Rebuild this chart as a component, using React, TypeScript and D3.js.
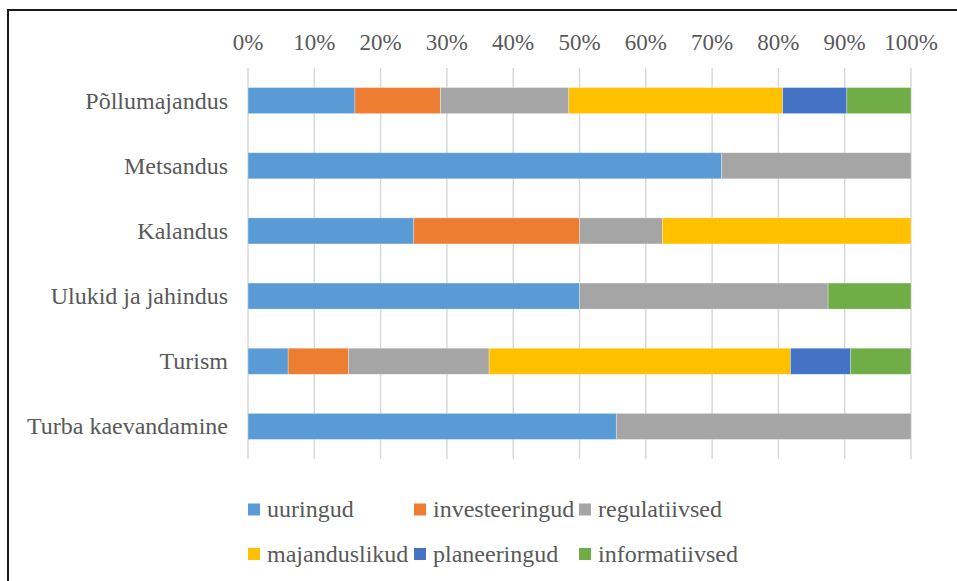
import React from "react";
import * as d3 from "d3";

const categories = [
  "Põllumajandus",
  "Metsandus",
  "Kalandus",
  "Ulukid ja jahindus",
  "Turism",
  "Turba kaevandamine",
];
const seriesNames = [
  "uuringud",
  "investeeringud",
  "regulatiivsed",
  "majanduslikud",
  "planeeringud",
  "informatiivsed",
];
const seriesColors = ["#5B9BD5", "#ED7D31", "#A5A5A5", "#FFC000", "#4472C4", "#70AD47"];
// counts per category for each series
const uuringud = [5, 5, 2, 4, 2, 5];
const investeeringud = [4, 0, 2, 0, 3, 0];
const regulatiivsed = [6, 2, 1, 3, 7, 4];
const majanduslikud = [10, 0, 3, 0, 15, 0];
const planeeringud = [3, 0, 0, 0, 3, 0];
const informatiivsed = [3, 0, 0, 1, 3, 0];
const seriesValues = [uuringud, investeeringud, regulatiivsed, majanduslikud, planeeringud, informatiivsed];
const tickValues = [0, 0.1, 0.2, 0.3, 0.4, 0.5, 0.6, 0.7, 0.8, 0.9, 1];

const W = 957;
const H = 581;
const FONT = '"Liberation Serif"';
const TEXT = "#595959";
const txtStyle: React.CSSProperties = { fontFamily: FONT, fontSize: 24 };
const tickStyle: React.CSSProperties = { fontFamily: FONT, fontSize: 23 };

export default function App() {
  const x = d3.scaleLinear().domain([0, 1]).range([248, 911]);
  const y = d3.scaleBand<string>().domain(categories).range([68, 459]).paddingInner(0.6).paddingOuter(0.3);

  const rows = categories.map((c, i) => {
    const obj: Record<string, number | string> = { cat: c };
    seriesNames.forEach((s, j) => (obj[s] = seriesValues[j][i]));
    return obj;
  });
  const stacked = d3
    .stack<Record<string, number | string>>()
    .keys(seriesNames)
    .offset(d3.stackOffsetExpand)(rows as any);

  const fmt = d3.format(".0%");

  const legendCols = [248, 414, 579];
  const legendRows = [509.5, 554];

  return (
    <svg
      width={W}
      height={H}
      style={{ position: "absolute", left: 0, top: 0, background: "#fff" }}
    >
      <rect x={0} y={0} width={W} height={H} fill="#fff" />
      <rect x={8} y={10} width={970} height={620} fill="none" stroke="#1a1a1a" strokeWidth={2} />
      {tickValues.map((t) => (
        <g key={t}>
          <line x1={x(t)} x2={x(t)} y1={68} y2={459} stroke="#d9d9d9" strokeWidth={1.5} />
          <text x={x(t)} y={50} textAnchor="middle" style={tickStyle} fill={TEXT}>
            {fmt(t)}
          </text>
        </g>
      ))}
      {stacked.map((layer, j) => (
        <g key={seriesNames[j]} fill={seriesColors[j]}>
          {layer.map((d, i) =>
            d[1] - d[0] > 0 ? (
              <rect
                key={i}
                x={x(d[0])}
                y={y(categories[i])}
                width={x(d[1]) - x(d[0])}
                height={y.bandwidth()}
                stroke="#ffffff"
                strokeOpacity={0.4}
                strokeWidth={0.75}
              />
            ) : null
          )}
        </g>
      ))}
      {categories.map((c) => (
        <text
          key={c}
          x={228}
          y={(y(c) as number) + y.bandwidth() / 2}
          dy="0.33em"
          textAnchor="end"
          style={txtStyle}
          fill={TEXT}
        >
          {c}
        </text>
      ))}
      {seriesNames.map((s, j) => {
        const cx = legendCols[j % 3];
        const cy = legendRows[Math.floor(j / 3)];
        return (
          <g key={s}>
            <rect x={cx} y={cy - 6} width={12} height={12} fill={seriesColors[j]} />
            <text x={cx + 19} y={cy} dy="0.33em" style={txtStyle} fill={TEXT}>
              {s}
            </text>
          </g>
        );
      })}
    </svg>
  );
}
